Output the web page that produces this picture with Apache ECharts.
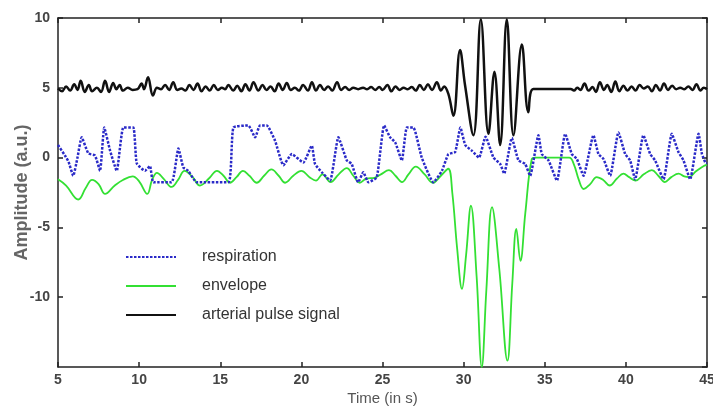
<!DOCTYPE html>
<html><head><meta charset="utf-8">
<script src="https://cdn.jsdelivr.net/npm/echarts@6/dist/echarts.min.js"></script>
<style>html,body{margin:0;padding:0;background:#fff}#c{width:713px;height:410px}</style>
</head><body><div id="c"></div>
<script>
const seriesNames = ['respiration', 'envelope', 'arterial pulse signal'];
const xMin = 5, xMax = 45, xStep = 5;
const yMin = -15, yMax = 10, yStep = 5;

const respT = [5.0,5.43,5.65,5.94,6.2,6.46,6.87,7.28,7.59,7.85,8.21,8.62,9.03,9.64,9.85,10.36,10.67,10.88,12.0,12.42,12.72,13.03,13.55,15.5,15.81,16.73,17.15,17.45,17.87,18.38,18.89,19.41,20.12,20.64,20.84,21.26,21.77,22.28,22.8,23.1,23.5,23.82,24.13,24.65,25.1,25.47,25.78,26.19,26.5,26.9,27.42,28.14,28.66,29.06,29.48,29.8,30.1,30.5,30.95,31.35,31.84,32.25,32.5,32.97,33.38,33.79,34.1,34.61,34.82,35.23,35.75,36.26,36.67,36.98,37.39,38.0,38.31,38.62,39.03,39.54,39.96,40.26,40.57,41.08,41.5,41.8,42.32,42.83,43.24,43.55,43.96,44.48,44.69,44.9,45.0];
const respV = [0.9,0.15,-0.3,-1.3,0.0,1.45,0.3,0.15,-0.95,2.15,0.5,-0.95,2.15,2.15,-0.4,-0.95,-0.6,-1.77,-1.77,0.65,-0.7,-0.95,-1.77,-1.77,2.15,2.3,1.45,2.3,2.3,1.2,-0.55,0.25,-0.35,0.85,-0.45,-1.05,-1.65,1.45,-0.2,-0.45,-1.77,-1.05,-1.77,-1.4,2.3,1.45,1.1,-0.2,2.15,2.15,0.0,-1.77,-0.95,0.25,0.4,2.15,0.9,0.5,0.0,1.5,0.0,-0.45,-1.15,1.4,-0.2,-0.45,-1.3,1.6,0.25,-0.2,-1.65,1.7,0.25,-0.1,-1.3,1.6,0.25,-0.1,-1.3,1.8,0.25,-0.2,-1.55,1.6,0.25,-0.2,-1.55,1.7,0.4,-0.2,-1.55,1.7,0.25,-0.35,-0.4];

const envT = [5.0,5.5,6.25,6.7,7.1,7.5,7.9,8.5,9.0,9.6,10.0,10.5,10.8,11.1,11.5,12.0,12.4,12.8,13.3,13.75,14.3,14.8,15.2,15.6,16.0,16.4,16.8,17.25,17.7,18.15,18.6,19.0,19.5,20.0,20.5,20.9,21.3,21.8,22.3,22.8,23.2,23.6,24.0,24.5,24.9,25.4,25.8,26.2,26.6,27.05,27.6,28.1,28.6,29.05,29.3,29.6,29.9,30.15,30.45,30.8,31.12,31.4,31.75,32.2,32.7,33.0,33.25,33.5,33.8,34.2,34.45,36.5,36.8,37.1,37.4,37.8,38.2,38.6,39.0,39.45,39.85,40.2,40.6,41.1,41.6,42.0,42.4,42.8,43.25,43.6,43.9,44.3,44.8,45.0];
const envV = [-1.55,-2.0,-3.0,-2.2,-1.6,-1.9,-2.6,-2.0,-1.6,-1.35,-1.7,-2.6,-1.6,-1.1,-1.5,-2.1,-1.6,-0.95,-1.4,-2.0,-1.5,-0.95,-1.3,-1.8,-1.4,-0.95,-1.3,-1.8,-1.3,-0.85,-1.3,-1.8,-1.3,-0.95,-1.4,-1.65,-1.2,-1.75,-1.2,-0.75,-1.3,-1.8,-1.5,-1.45,-1.2,-0.9,-1.3,-1.75,-1.2,-0.65,-1.2,-1.8,-1.3,-0.8,-2.5,-6.5,-9.4,-7.0,-3.45,-8.5,-15.0,-9.5,-3.55,-8.0,-14.55,-9.0,-5.1,-7.4,-4.0,-0.1,0.0,0.0,-0.5,-1.6,-2.25,-1.9,-1.4,-1.6,-2.0,-1.5,-1.15,-1.4,-1.65,-1.2,-0.9,-1.3,-1.75,-1.4,-1.15,-1.35,-1.4,-1.0,-0.6,-0.5];

const pulseT = [5.0,5.25,5.5,5.75,6.0,6.2,6.4,6.65,6.9,7.1,7.4,7.65,7.9,8.15,8.4,8.6,8.8,9.0,9.3,9.6,9.9,10.15,10.3,10.55,10.85,11.1,11.35,11.6,11.85,12.1,12.35,12.6,12.85,13.1,13.35,13.6,13.85,14.1,14.35,14.6,14.85,15.1,15.3,15.5,15.8,16.05,16.3,16.55,16.8,17.05,17.35,17.6,17.85,18.1,18.35,18.6,18.85,19.1,19.35,19.6,19.85,20.1,20.4,20.65,20.9,21.15,21.4,21.65,21.9,22.2,22.45,22.7,22.95,23.2,23.5,23.8,24.05,24.3,24.55,24.8,25.0,25.3,25.55,25.8,26.05,26.3,26.55,26.8,27.05,27.3,27.55,27.8,28.05,28.35,28.6,28.8,29.06,29.37,29.78,30.09,30.6,31.06,31.53,31.9,32.25,32.66,33.07,33.59,33.99,34.3,36.6,36.8,37.0,37.2,37.45,37.7,37.95,38.15,38.4,38.65,38.85,39.1,39.35,39.6,39.85,40.1,40.35,40.6,40.85,41.1,41.35,41.6,41.85,42.1,42.35,42.6,42.85,43.1,43.35,43.6,43.85,44.1,44.35,44.6,44.8,45.0];
const pulseV = [4.95,4.75,5.1,4.8,5.25,4.85,5.5,4.7,5.2,4.75,5.0,4.7,5.5,4.7,5.35,4.9,5.2,4.8,5.0,4.85,4.9,5.3,4.9,5.75,4.45,5.0,4.9,5.2,4.85,5.4,4.85,4.95,4.8,5.2,4.85,5.3,4.75,5.1,4.8,5.2,4.85,5.0,4.9,5.2,4.8,5.15,4.75,5.25,4.8,5.4,4.8,5.2,4.85,5.1,4.75,5.3,4.85,5.35,4.85,5.0,4.8,5.2,4.8,5.4,4.8,5.2,4.85,5.1,4.8,5.4,4.85,5.05,4.85,5.0,4.9,5.0,4.9,5.05,4.85,5.05,4.85,5.2,4.75,5.1,4.85,5.0,4.9,5.05,4.8,5.2,4.85,5.25,4.85,5.4,4.8,5.1,4.56,3.0,7.7,5.16,1.6,9.9,1.7,6.15,0.9,9.9,1.6,8.1,3.25,4.92,4.92,4.8,5.0,4.85,5.3,4.8,5.05,4.7,5.4,4.85,5.2,4.7,5.45,4.75,5.15,4.8,5.1,4.8,5.2,4.95,5.1,4.75,5.2,4.8,5.3,4.85,5.15,4.9,5.0,4.9,5.1,4.85,5.25,4.8,5.0,4.9];

const zip = (a, b) => a.map((t, i) => [t, b[i]]);
const FONT = 'Liberation Sans, Arial, Helvetica, sans-serif';
const axisLineStyle = { color: '#222', width: 1.5 };

const chart = echarts.init(document.getElementById('c'));
chart.setOption({
  backgroundColor: '#fff',
  animation: false,
  grid: { left: 58, right: 6, top: 18, bottom: 43, containLabel: false, outerBoundsMode: 'none' },
  legend: {
    data: seriesNames,
    orient: 'vertical', left: 120, top: 244,
    itemWidth: 50, itemHeight: 14, itemGap: 13,
    itemStyle: { color: 'rgba(0,0,0,0)', borderWidth: 0, opacity: 0 },
    textStyle: { fontFamily: FONT, fontSize: 16, color: '#333', padding: [0, 0, 0, 21] }
  },
  xAxis: [{
    type: 'value', min: xMin, max: xMax, interval: xStep, position: 'bottom',
    name: 'Time (in s)', nameLocation: 'middle', nameGap: 24, nameMoveOverlap: false,
    nameTextStyle: { fontFamily: FONT, fontSize: 15, color: '#555' },
    axisLine: { onZero: false, lineStyle: axisLineStyle },
    axisTick: { inside: true, length: 5, lineStyle: axisLineStyle },
    axisLabel: { fontFamily: FONT, fontSize: 14, fontWeight: 'bold', color: '#444', margin: 6 },
    splitLine: { show: false }
  }, {
    type: 'value', min: xMin, max: xMax, interval: xStep, position: 'top',
    axisLine: { onZero: false, lineStyle: axisLineStyle },
    axisTick: { inside: true, length: 5, lineStyle: axisLineStyle },
    axisLabel: { show: false }, splitLine: { show: false }
  }],
  yAxis: [{
    type: 'value', min: yMin, max: yMax, interval: yStep, position: 'left',
    name: 'Amplitude (a.u.)', nameLocation: 'middle', nameGap: 27, nameMoveOverlap: false,
    nameTextStyle: { fontFamily: FONT, fontSize: 18, fontWeight: 'bold', color: '#666' },
    axisLine: { onZero: false, lineStyle: axisLineStyle },
    axisTick: { inside: true, length: 5, lineStyle: axisLineStyle },
    axisLabel: { fontFamily: FONT, fontSize: 14, fontWeight: 'bold', color: '#444', margin: 8, showMinLabel: false },
    splitLine: { show: false }
  }, {
    type: 'value', min: yMin, max: yMax, interval: yStep, position: 'right',
    axisLine: { onZero: false, lineStyle: axisLineStyle },
    axisTick: { inside: true, length: 5, lineStyle: axisLineStyle },
    axisLabel: { show: false }, splitLine: { show: false }
  }],
  series: [{
    name: seriesNames[1], type: 'line', data: zip(envT, envV), xAxisIndex: 0, yAxisIndex: 0,
    showSymbol: false, symbol: 'none', smooth: 0.4, z: 2,
    lineStyle: { color: '#33e033', width: 1.8 }, itemStyle: { color: '#33e033' }
  }, {
    name: seriesNames[0], type: 'line', data: zip(respT, respV), xAxisIndex: 0, yAxisIndex: 0,
    showSymbol: false, symbol: 'none', smooth: 0.15, z: 3,
    lineStyle: { color: '#2a2ac8', width: 2.5, type: [2.5, 1.5] }, itemStyle: { color: '#2a2ac8' }
  }, {
    name: seriesNames[2], type: 'line', data: zip(pulseT, pulseV), xAxisIndex: 0, yAxisIndex: 0,
    showSymbol: false, symbol: 'none', smooth: 0.4, z: 4,
    lineStyle: { color: '#111', width: 2.5 }, itemStyle: { color: '#111' }
  }]
});
</script></body></html>
